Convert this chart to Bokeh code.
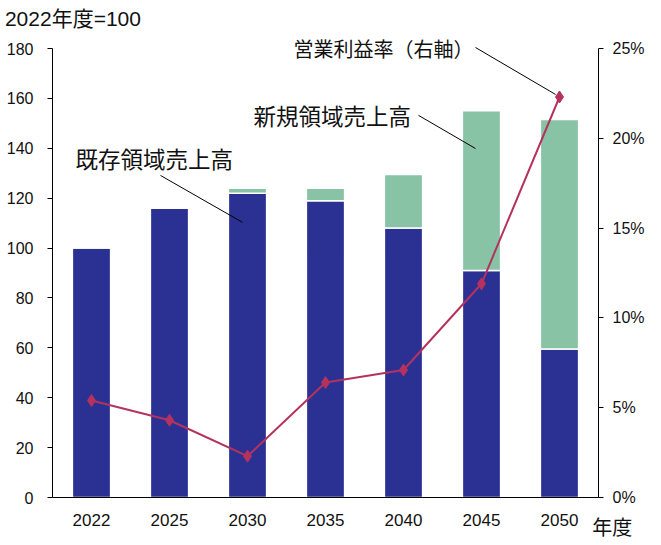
from bokeh.plotting import figure
from bokeh.models import Range1d, LinearAxis, FixedTicker, PrintfTickFormatter, Label, Segment, ColumnDataSource
from bokeh.embed import file_html
from bokeh.resources import INLINE

years = ["2022", "2025", "2030", "2035", "2040", "2045", "2050"]
existing = [100, 116, 122, 119, 108, 91, 59.5]
new = [0, 0, 2, 5, 21.5, 64, 92]
margin = [5.4, 4.3, 2.3, 6.4, 7.1, 11.9, 22.3]
left_ticks = [0, 20, 40, 60, 80, 100, 120, 140, 160, 180]
right_ticks = [0, 5, 10, 15, 20, 25]

BLUE = "#2B3192"
GREEN = "#88C3A5"
RED = "#B5325E"
NUM_FONT = "Liberation Sans, Noto Sans CJK JP"
JP_FONT = "Noto Sans CJK JP"

W, H = 655, 540
# frame covers the whole canvas; axes are fixed inside it
PX_X = 78.0           # px per category
PX_Y = 449 / 180.0    # px per left-axis unit
X0, Y0 = 52, 497      # pixel of (0, 0)
xr = Range1d(-X0 / PX_X, (W - X0) / PX_X)
yr = Range1d(-(H - Y0) / PX_Y, Y0 / PX_Y)
rr = Range1d(yr.start * 25 / 180, yr.end * 25 / 180)

xs = [i + 0.5 for i in range(len(years))]
src = ColumnDataSource(dict(x=xs, existing=existing, new=new, margin=margin))

p = figure(width=W, height=H, output_backend="svg", toolbar_location=None,
           x_range=xr, y_range=yr, x_axis_location=None, y_axis_location=None,
           min_border=0, min_border_left=0, min_border_right=0,
           min_border_top=0, min_border_bottom=0)
p.extra_y_ranges = {"rate": rr}
p.outline_line_color = None
p.xgrid.visible = False
p.ygrid.visible = False
p.background_fill_color = "white"
p.border_fill_color = "white"

p.vbar_stack(["existing", "new"], x="x", width=0.49, color=[BLUE, GREEN],
             line_color="white", line_width=1.5, source=src)

p.line("x", "margin", source=src, y_range_name="rate", line_color=RED, line_width=2)
p.scatter("x", "margin", source=src, y_range_name="rate", marker="diamond",
          size=12, fill_color=RED, line_color=RED)

def style(ax, size):
    ax.minor_tick_out = 0
    ax.minor_tick_in = 0
    ax.major_tick_in = 0
    ax.major_label_text_font_size = size
    ax.major_label_text_font = NUM_FONT
    ax.major_label_text_color = "#111111"
    ax.axis_line_color = "black"
    ax.major_tick_line_color = "black"

xa = LinearAxis(ticker=FixedTicker(ticks=xs), fixed_location=0, bounds=(0, len(years)))
xa.major_label_overrides = {x: y for x, y in zip(xs, years)}
style(xa, "17px")
xa.major_tick_out = 0
xa.major_label_standoff = 16
p.add_layout(xa, "below")

ya = LinearAxis(ticker=FixedTicker(ticks=left_ticks), fixed_location=0, bounds=(0, 180))
style(ya, "16px")
ya.major_tick_out = 5
ya.major_label_standoff = 14
p.add_layout(ya, "left")

ra = LinearAxis(y_range_name="rate", ticker=FixedTicker(ticks=right_ticks),
                formatter=PrintfTickFormatter(format="%d%%"),
                fixed_location=len(years), bounds=(0, 25))
style(ra, "16px")
ra.major_tick_out = 5
ra.major_label_standoff = 9
p.add_layout(ra, "right")

# leader lines
lead = ColumnDataSource(dict(x0=[1.385, 4.692, 5.423], y0=[129.1, 153.2, 180.4],
                             x1=[2.436, 5.423, xs[6] - 0.05], y1=[110.3, 139.9, margin[6] * 180 / 25 + 1]))
p.add_glyph(lead, Segment(x0="x0", y0="y0", x1="x1", y1="y1", line_color="black", line_width=1))

def lab(x, y, t, size, font=JP_FONT):
    p.add_layout(Label(x=x, y=y, text=t, text_font=font, text_font_size=size,
                       text_baseline="middle", text_align="left", text_color="#111111"))

lab(0.295, 136.0, "既存領域売上高", "22.5px")
lab(2.577, 153.3, "新規領域売上高", "22.5px")
lab(3.09, 180.0, "営業利益率（右軸）", "20px")
lab(-0.61, 192.0, "2022年度=100", "21px", NUM_FONT)
lab(6.92, -11.8, "年度", "20px")

open("out.html", "w").write(file_html(p, INLINE))
